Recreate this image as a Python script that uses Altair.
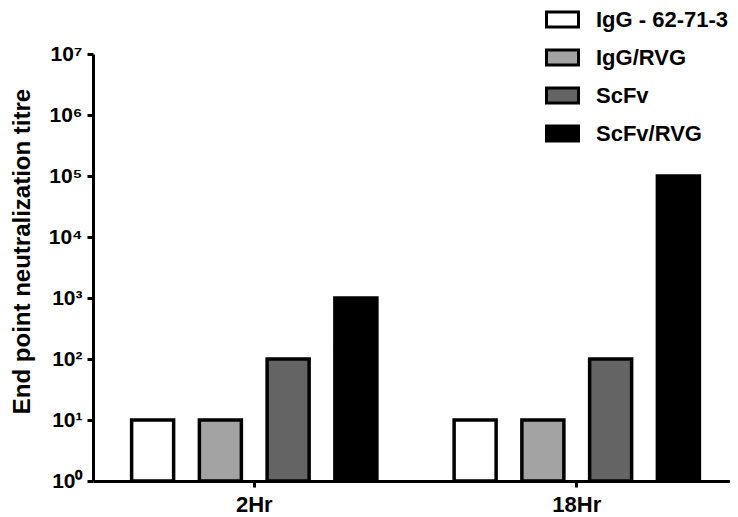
import altair as alt
import pandas as pd

timepoints = ["2Hr", "18Hr"]
series = ["IgG - 62-71-3", "IgG/RVG", "ScFv", "ScFv/RVG"]
titre_2hr = [10, 10, 100, 1000]
titre_18hr = [10, 10, 100, 100000]
fills = ["#ffffff", "#a3a3a3", "#646464", "#000000"]
y_ticks = [1, 10, 100, 1000, 10000, 100000, 1000000, 10000000]

rows = []
for tp, vals in zip(timepoints, [titre_2hr, titre_18hr]):
    for s, v in zip(series, vals):
        rows.append({"time": tp, "series": s, "titre": v})
df = pd.DataFrame(rows)

FONT = "Liberation Sans"
sup_expr = ("'10' + ['\u2070','\u00b9','\u00b2','\u00b3','\u2074','\u2075','\u2076','\u2077']"
            "[round(log(datum.value)/LN10)]")

bars = alt.Chart(df).mark_bar(stroke="black", strokeWidth=3.5, strokeJoin="miter").encode(
    x=alt.X("time:N", sort=timepoints, title=None,
            scale=alt.Scale(range=[0, 645], paddingInner=0, paddingOuter=0),
            axis=alt.Axis(labelAngle=0, labelFontSize=22, labelFont=FONT,
                          labelFontWeight="bold", labelColor="black", labelPadding=7,
                          tickSize=6, tickWidth=3, tickColor="black",
                          domainWidth=3, domainColor="black", grid=False)),
    xOffset=alt.XOffset("series:N", sort=series,
                        scale=alt.Scale(paddingInner=0.38, paddingOuter=0.57)),
    y=alt.Y("titre:Q", scale=alt.Scale(type="log", domain=[1, 1e7], nice=False),
            title="End point neutralization titre",
            axis=alt.Axis(values=y_ticks, labelExpr=sup_expr, labelFont=FONT,
                          labelFontSize=21, labelFontWeight="bold", labelColor="black",
                          labelPadding=5, tickSize=6, tickWidth=3, tickColor="black",
                          domainWidth=3, domainColor="black", grid=False,
                          titleFont=FONT, titleFontSize=24, titleFontWeight="bold",
                          titleColor="black", titleAngle=270, titleX=-64, titleY=197,
                          titleAlign="center", titleBaseline="alphabetic")),
    y2=alt.datum(1),
    fill=alt.Fill("series:N", sort=series,
                  scale=alt.Scale(domain=series, range=fills),
                  legend=alt.Legend(title=None, orient="none", legendX=452, legendY=-52,
                                    symbolType="M-1,-0.47H1V0.47H-1Z", symbolSize=1024,
                                    symbolStrokeColor="black", symbolStrokeWidth=3,
                                    symbolOpacity=1,
                                    labelFont=FONT, labelFontSize=22, labelFontWeight="bold",
                                    labelColor="black", labelOffset=16, rowPadding=6,
                                    padding=0, labelLimit=300)),
).properties(
    width=637, height=427,
    autosize=alt.AutoSizeParams(type="none"),
    padding={"left": 85, "top": 46, "right": 0, "bottom": 40},
).configure_view(stroke=None)

chart = bars
chart.save("out.html", embed_options={"renderer": "svg", "actions": False})
